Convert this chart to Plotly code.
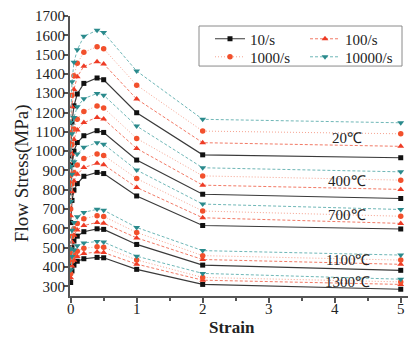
import plotly.graph_objects as go

# strain points of each flow curve
strain = [0, 0.02, 0.05, 0.1, 0.2, 0.4, 0.5, 1, 2, 5]
temps = ["20℃", "400℃", "700℃", "1100℃", "1300℃"]

# flow stress (MPa) per strain rate, one list per temperature
rate_10 = [
    [975, 1150, 1235, 1296, 1351, 1379, 1370, 1199, 981, 966],
    [785, 930, 1000, 1045, 1080, 1106, 1097, 954, 777, 755],
    [630, 745, 798, 832, 870, 890, 884, 768, 615, 597],
    [420, 500, 535, 560, 583, 598, 595, 517, 410, 383],
    [320, 380, 410, 430, 443, 450, 448, 388, 310, 285],
]
rate_100 = [
    [1040, 1230, 1320, 1385, 1440, 1463, 1452, 1270, 1044, 1025],
    [835, 985, 1060, 1110, 1148, 1175, 1166, 1014, 824, 802],
    [665, 790, 845, 880, 915, 937, 930, 812, 655, 626],
    [445, 530, 565, 592, 615, 631, 627, 551, 439, 414],
    [345, 405, 435, 455, 470, 478, 475, 415, 332, 310],
]
rate_1000 = [
    [1095, 1290, 1390, 1455, 1512, 1541, 1530, 1342, 1104, 1090],
    [875, 1035, 1115, 1165, 1206, 1234, 1224, 1066, 872, 850],
    [700, 830, 890, 928, 962, 985, 978, 858, 690, 663],
    [470, 560, 598, 626, 650, 666, 662, 579, 459, 436],
    [365, 430, 462, 482, 497, 505, 502, 437, 346, 323],
]
rate_10000 = [
    [1150, 1360, 1460, 1525, 1595, 1626, 1614, 1415, 1165, 1147],
    [920, 1090, 1175, 1230, 1272, 1299, 1290, 1130, 914, 893],
    [740, 880, 945, 985, 1020, 1044, 1036, 902, 726, 698],
    [495, 590, 630, 660, 683, 699, 694, 605, 485, 462],
    [385, 455, 488, 510, 525, 532, 529, 456, 367, 337],
]
rate_names = ["10/s", "100/s", "1000/s", "10000/s"]
label_pos_x = [4.19, 4.19, 4.19, 4.2, 4.2]
label_pos_y = [1068, 845, 669, 436, 322]

FONT = "Liberation Serif, Times New Roman, serif"

def join(groups):
    xs, ys = [], []
    for g in groups:
        xs += strain + [None]
        ys += g + [None]
    return xs, ys

styles = [
    dict(line=dict(color="#3a3a3a", width=1.2),
         marker=dict(symbol="square", size=5, color="#111111")),
    dict(line=dict(color="#f27a66", width=1, dash="3px,2px"),
         marker=dict(symbol="triangle-up", size=6, color="#ee3b25")),
    dict(line=dict(color="#f6a390", width=1, dash="1px,2px"),
         marker=dict(symbol="circle", size=5.5, color="#f2502c")),
    dict(line=dict(color="#6fb7b7", width=1, dash="3px,2px"),
         marker=dict(symbol="triangle-down", size=6, color="#2a8a8c")),
]
legend_ids = ["legend", "legend2", "legend3", "legend4"]

fig = go.Figure()
for i, data in enumerate([rate_10, rate_100, rate_1000, rate_10000]):
    xs, ys = join(data)
    fig.add_trace(go.Scatter(x=xs, y=ys, mode="lines+markers", name=rate_names[i],
                             connectgaps=False, legend=legend_ids[i], **styles[i]))

# plot area: x from 70 to 408 px, y from 16 to 295.7 px
def px2paper_x(px):
    return (px - 70) / 338.0

def py2paper_y(py):
    return (295.7 - py) / 279.7

leg_common = dict(font=dict(family=FONT, size=15, color="#222"), bgcolor="rgba(0,0,0,0)",
                  borderwidth=0, xanchor="left", yanchor="middle")
lpos = [(210, 39), (305, 39), (210, 57), (305, 57)]
layout_legends = {}
for lid, (lx, ly) in zip(legend_ids, lpos):
    layout_legends[lid] = dict(x=px2paper_x(lx), y=py2paper_y(ly), **leg_common)

annotations = [
    dict(x=label_pos_x[i], y=label_pos_y[i], xref="x", yref="y", text=t, showarrow=False,
         font=dict(family=FONT, size=15, color="#222"))
    for i, t in enumerate(temps)
]
annotations.append(dict(x=px2paper_x(22), y=py2paper_y(173), xref="paper", yref="paper",
                        xanchor="center", yanchor="middle", text="Flow Stress(MPa)",
                        textangle=-90, showarrow=False,
                        font=dict(family=FONT, size=19, color="#222")))
annotations.append(dict(x=px2paper_x(232), y=py2paper_y(338), xref="paper", yref="paper",
                        xanchor="center", yanchor="bottom", borderpad=0,
                        text="<b>Strain</b>", showarrow=False,
                        font=dict(family=FONT, size=17, color="#222")))

fig.update_layout(
    width=408, height=338,
    margin=dict(l=70, r=0, t=16, b=42.3),
    paper_bgcolor="white", plot_bgcolor="white",
    showlegend=True,
    annotations=annotations,
    shapes=[dict(type="rect", xref="paper", yref="paper",
                 x0=px2paper_x(199), x1=px2paper_x(402), y0=py2paper_y(66), y1=py2paper_y(26),
                 line=dict(color="#8a8a8a", width=1), fillcolor="rgba(0,0,0,0)")],
    **layout_legends,
)
fig.update_xaxes(range=[-0.01, 5.11], tickvals=[0, 1, 2, 3, 4, 5], showgrid=False, zeroline=False,
                 showline=True, linecolor="#555", linewidth=2, ticks="outside", ticklen=5,
                 tickcolor="#555", tickwidth=1.5, ticklabelstandoff=-7,
                 minor=dict(tickvals=[0.5, 1.5, 2.5, 3.5, 4.5], ticks="outside", ticklen=3,
                            tickcolor="#555"),
                 tickfont=dict(family=FONT, size=15, color="#222"))
fig.update_yaxes(range=[250, 1700], tickvals=list(range(300, 1701, 100)), showgrid=False,
                 zeroline=False, showline=True, linecolor="#555", linewidth=2, ticks="outside",
                 ticklen=4, tickcolor="#555", tickwidth=1.5, ticklabelstandoff=-4,
                 tickfont=dict(family=FONT, size=15, color="#222"))

fig.write_html("out.html", config={"displayModeBar": False},
               post_script="document.body.style.margin='0';document.body.style.overflow='hidden';")
